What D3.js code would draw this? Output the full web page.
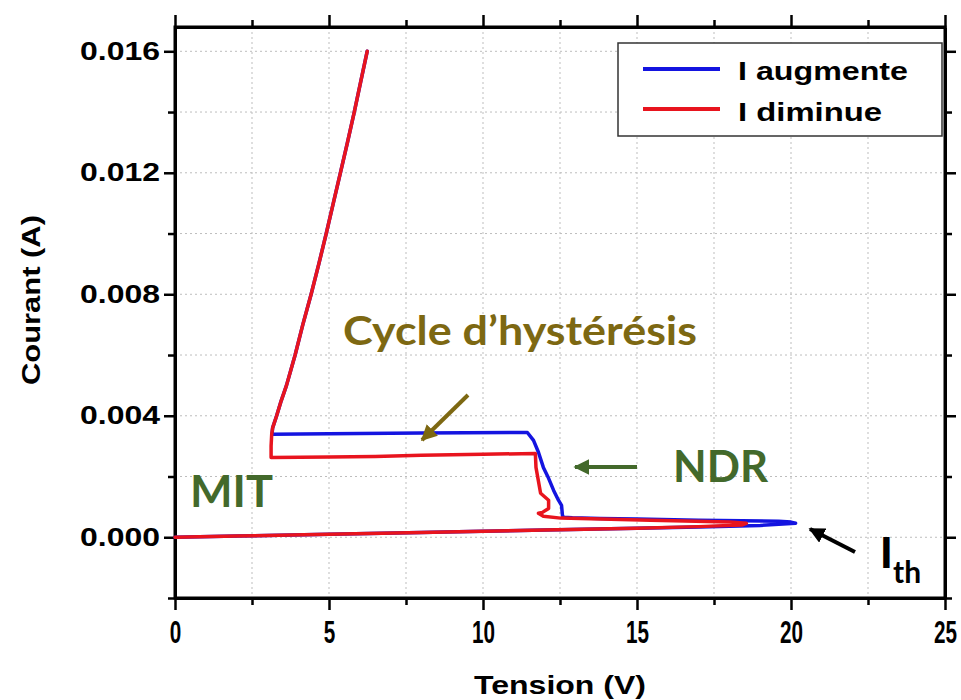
<!DOCTYPE html>
<html><head><meta charset="utf-8">
<script src="https://cdn.jsdelivr.net/npm/d3@7"></script>
<style>body{margin:0;background:#fff}svg{display:block}</style>
</head><body>
<svg id="c" width="961" height="700"></svg>
<script>
// ---- data ----
const xMajorTicks = [0, 5, 10, 15, 20, 25];
const xMinorTicks = [2.5, 7.5, 12.5, 17.5, 22.5];
const yMajorTicks = [0, 0.004, 0.008, 0.012, 0.016];
const yMinorTicks = [-0.002, 0.002, 0.006, 0.010, 0.014];
const seriesNames = ["I augmente", "I diminue"];

// I augmente (blue)
const upV = [0, 2, 5, 8, 10, 12, 15, 17, 19, 20.15,
  20.0, 19.6, 17.0, 15.0, 13.8, 12.9, 12.61, 12.58, 12.55, 12.45, 12.29, 12.13, 11.96, 11.8, 11.64, 11.44,
  8.0, 5.0, 3.15, 3.17, 3.3, 3.45, 3.62, 3.9, 4.15, 4.42, 4.67, 4.91, 5.14, 5.37, 5.6, 5.82, 6.03, 6.24];
const upI = [0, 0.00004, 0.0001, 0.00016, 0.0002, 0.00024, 0.0003, 0.00034, 0.00039, 0.00046,
  0.0005, 0.00053, 0.00056, 0.0006, 0.00062, 0.00064, 0.00066, 0.00072, 0.00105, 0.00122, 0.00155, 0.00194, 0.0023, 0.0028, 0.00319, 0.00345,
  0.00343, 0.00341, 0.00339, 0.0036, 0.004, 0.0045, 0.005, 0.006, 0.007, 0.008, 0.009, 0.010, 0.011, 0.012, 0.013, 0.014, 0.015, 0.016];

// I diminue (red)
const downV = [6.24, 6.03, 5.82, 5.6, 5.37, 5.14, 4.91, 4.67, 4.42, 4.15, 3.9, 3.62, 3.45, 3.3, 3.17, 3.14, 3.12, 3.12,
  5.0, 6.5, 8.0, 10.0, 11.7, 11.72, 11.87, 12.13, 12.13, 11.93, 11.8, 11.96, 12.52, 15.44, 18.0, 18.55,
  18.4, 17, 15, 12, 10, 8, 5, 2, 0];
const downI = [0.016, 0.015, 0.014, 0.013, 0.012, 0.011, 0.010, 0.009, 0.008, 0.007, 0.006, 0.005, 0.0045, 0.004, 0.0036, 0.0034, 0.0030, 0.00263,
  0.00264, 0.00266, 0.0027, 0.00273, 0.00276, 0.0023, 0.00145, 0.00122, 0.00095, 0.00082, 0.00079, 0.00069, 0.00063, 0.00056, 0.0005, 0.00046,
  0.0004, 0.00035, 0.0003, 0.00024, 0.0002, 0.00016, 0.0001, 0.00004, 0];

// ---- chart ----
const svg = d3.select("#c");
const x = d3.scaleLinear().domain([0, 25]).range([175, 945]);
const y = d3.scaleLinear().domain([-0.002, 0.0168]).range([598, 27]);
const X0 = x.range()[0], X1 = x.range()[1], Y0 = y.range()[0], Y1 = y.range()[1];
const FONT = "'Liberation Sans', Arial, sans-serif";
const HUM = "Lato, 'Open Sans', sans-serif";
const BLUE = "#1414e0", RED = "#e8141e", OLIVE = "#7d6812", GREEN = "#43692b";

// grid
const grid = svg.append("g").attr("stroke", "#bdbdbd").attr("stroke-width", 1).attr("stroke-dasharray", "2,3");
xMajorTicks.concat(xMinorTicks).filter(v => v > 0 && v < 25).forEach(v =>
  grid.append("line").attr("x1", x(v)).attr("x2", x(v)).attr("y1", Y1).attr("y2", Y0));
yMajorTicks.concat(yMinorTicks).filter(v => v > -0.002).forEach(v =>
  grid.append("line").attr("x1", X0).attr("x2", X1).attr("y1", y(v)).attr("y2", y(v)));

// axes
function styleAxis(g) {
  g.selectAll("path").attr("stroke", "#000").attr("stroke-width", 3);
  g.selectAll("line").attr("stroke", "#000").attr("stroke-width", 2.5);
}
const mk = (axisFn, scale, ticks, size, labels) => {
  const a = axisFn(scale).tickValues(ticks).tickSize(size).tickSizeOuter(0);
  if (!labels) a.tickFormat("");
  return a;
};
// bottom
svg.append("g").attr("transform", `translate(0,${Y0})`).call(mk(d3.axisBottom, x, xMinorTicks, 7, false)).call(styleAxis);
const bx = svg.append("g").attr("transform", `translate(0,${Y0})`).call(mk(d3.axisBottom, x, xMajorTicks, 12, true)).call(styleAxis);
bx.selectAll("text").attr("font-family", "'Liberation Sans Narrow', " + FONT).attr("font-weight", "bold")
  .attr("font-size", 32).attr("fill", "#000").attr("y", 22).attr("dy", "0.71em")
  .each(function () { const t = this.textContent; d3.select(this).attr("textLength", t.length * 11.5).attr("lengthAdjust", "spacingAndGlyphs"); });
// top
svg.append("g").attr("transform", `translate(0,${Y1})`).call(mk(d3.axisTop, x, xMinorTicks, 7, false)).call(styleAxis);
svg.append("g").attr("transform", `translate(0,${Y1})`).call(mk(d3.axisTop, x, xMajorTicks, 12, false)).call(styleAxis);
// left
svg.append("g").attr("transform", `translate(${X0},0)`).call(mk(d3.axisLeft, y, yMinorTicks, 7, false)).call(styleAxis);
const ly = svg.append("g").attr("transform", `translate(${X0},0)`).call(mk(d3.axisLeft, y, yMajorTicks, 11, true).tickFormat(d3.format(".3f"))).call(styleAxis);
ly.selectAll("text").attr("font-family", FONT).attr("font-weight", "bold").attr("font-size", 25).attr("fill", "#000")
  .attr("x", -15).attr("textLength", 80).attr("lengthAdjust", "spacingAndGlyphs");
// right
svg.append("g").attr("transform", `translate(${X1},0)`).call(mk(d3.axisRight, y, yMinorTicks, 7, false)).call(styleAxis);
svg.append("g").attr("transform", `translate(${X1},0)`).call(mk(d3.axisRight, y, yMajorTicks, 11, false)).call(styleAxis);
// frame
svg.append("rect").attr("x", X0).attr("y", Y1).attr("width", X1 - X0).attr("height", Y0 - Y1)
  .attr("fill", "none").attr("stroke", "#000").attr("stroke-width", 3);

// axis titles
svg.append("text").attr("x", 560).attr("y", 694).attr("text-anchor", "middle")
  .attr("font-family", FONT).attr("font-weight", "bold").attr("font-size", 26)
  .attr("textLength", 172).attr("lengthAdjust", "spacingAndGlyphs").text("Tension (V)");
svg.append("text").attr("transform", "translate(40,300) rotate(-90)").attr("text-anchor", "middle")
  .attr("font-family", FONT).attr("font-weight", "bold").attr("font-size", 26)
  .attr("textLength", 170).attr("lengthAdjust", "spacingAndGlyphs").text("Courant (A)");

// curves
const line = d3.line().x(d => x(d[0])).y(d => y(d[1]));
const upData = upV.map((v, i) => [v, upI[i]]);
const downData = downV.map((v, i) => [v, downI[i]]);
svg.append("path").datum(upData).attr("d", line).attr("fill", "none").attr("stroke", BLUE)
  .attr("stroke-width", 3.5).attr("stroke-linejoin", "round").attr("stroke-linecap", "round");
svg.append("path").datum(downData).attr("d", line).attr("fill", "none").attr("stroke", RED)
  .attr("stroke-width", 3.5).attr("stroke-linejoin", "round").attr("stroke-linecap", "round");

// legend
const lg = svg.append("g");
lg.append("rect").attr("x", 618).attr("y", 43).attr("width", 324).attr("height", 93)
  .attr("fill", "#fff").attr("stroke", "#333").attr("stroke-width", 1.5);
[[BLUE, 69, 80], [RED, 109, 121]].forEach(([c, ly0, tb], i) => {
  lg.append("line").attr("x1", 643).attr("x2", 720).attr("y1", ly0).attr("y2", ly0).attr("stroke", c).attr("stroke-width", 4);
  lg.append("text").attr("x", 738).attr("y", tb).attr("font-family", FONT).attr("font-weight", "bold")
    .attr("font-size", 26).attr("textLength", i === 0 ? 170 : 144).attr("lengthAdjust", "spacingAndGlyphs").text(seriesNames[i]);
});

// arrows
const defs = svg.append("defs");
function marker(id, color) {
  defs.append("marker").attr("id", id).attr("viewBox", "0 0 10 10").attr("refX", 9).attr("refY", 5)
    .attr("markerWidth", 4).attr("markerHeight", 4).attr("orient", "auto")
    .append("path").attr("d", "M0,0 L10,5 L0,10 Z").attr("fill", color);
}
marker("aOlive", OLIVE); marker("aGreen", GREEN); marker("aBlack", "#000");
function arrow(x1, y1, x2, y2, c, id) {
  svg.append("line").attr("x1", x1).attr("y1", y1).attr("x2", x2).attr("y2", y2)
    .attr("stroke", c).attr("stroke-width", 4).attr("marker-end", `url(#${id})`);
}
arrow(468, 395, 422, 440, OLIVE, "aOlive");
arrow(637, 467, 575, 467, GREEN, "aGreen");
arrow(855, 552, 810, 529, "#000", "aBlack");

// annotations
svg.append("text").attr("x", 343).attr("y", 345).attr("font-family", HUM).attr("font-weight", "bold")
  .attr("font-size", 41).attr("fill", OLIVE).attr("textLength", 354).attr("lengthAdjust", "spacingAndGlyphs").text("Cycle d’hystérésis");
svg.append("text").attr("x", 673).attr("y", 482).attr("font-family", HUM).attr("font-weight", "bold")
  .attr("font-size", 44).attr("fill", GREEN).attr("textLength", 95).attr("lengthAdjust", "spacingAndGlyphs").text("NDR");
svg.append("text").attr("x", 190).attr("y", 507).attr("font-family", HUM).attr("font-weight", "bold")
  .attr("font-size", 44).attr("fill", GREEN).attr("textLength", 83).attr("lengthAdjust", "spacingAndGlyphs").text("MIT");
const ith = svg.append("text").attr("x", 880).attr("y", 568).attr("font-family", HUM).attr("font-weight", "900").attr("font-size", 42).attr("fill", "#000");
ith.append("tspan").text("I");
ith.append("tspan").attr("x", 893).attr("y", 583).attr("font-size", 30).attr("font-weight", "bold").text("th");
</script>
</body></html>
